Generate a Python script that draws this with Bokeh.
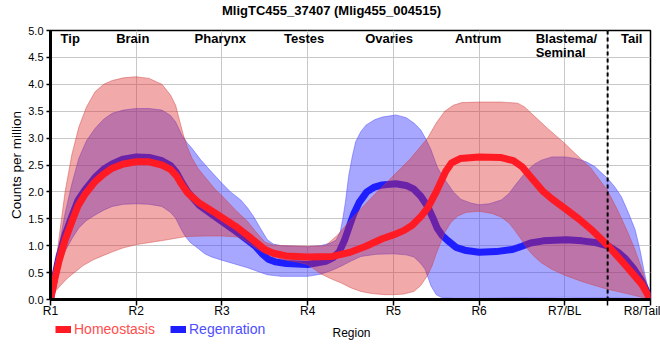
from bokeh.plotting import figure
from bokeh.layouts import column
from bokeh.models import FixedTicker, PrintfTickFormatter, Legend, LegendItem, Span, Range1d, Label
from bokeh.core.properties import value
from bokeh.embed import file_html
from bokeh.resources import INLINE

# ---------------- data ----------------
region_ticks = [1, 2, 3, 4, 5, 6, 7, 7.5, 8]
region_labels = ["R1", "R2", "R3", "R4", "R5", "R6", "R7/BL", "", "R8/Tail"]
section_names = ["Tip", "Brain", "Pharynx", "Testes", "Ovaries", "Antrum", "Tail"]
section_x = [1.23, 1.96, 2.98, 3.96, 4.95, 5.99, 7.78]
section2_names = ["Blastema/", "Seminal"]
section2_x = [6.66, 6.66]
tail_boundary = 7.5

hom_mean_x = [1.00, 1.05, 1.10, 1.17, 1.25, 1.32, 1.40, 1.52, 1.62, 1.72, 1.85, 2.00, 2.15, 2.30, 2.40, 2.47,
              2.53, 2.60, 2.73, 2.92, 3.16, 3.30, 3.40, 3.50, 3.60, 3.75, 4.00, 4.29, 4.48, 4.68, 4.87, 5.00,
              5.12, 5.22, 5.32, 5.40, 5.50, 5.61, 5.68, 5.78, 6.00, 6.25, 6.40, 6.50, 6.60, 6.74, 6.85, 7.02,
              7.17, 7.31, 7.51, 7.70, 7.82, 7.90, 8.00]
hom_mean_y = [0.00, 0.38, 0.72, 1.10, 1.45, 1.74, 1.95, 2.19, 2.33, 2.44, 2.52, 2.56, 2.56, 2.50, 2.42, 2.30,
              2.14, 1.98, 1.80, 1.61, 1.36, 1.19, 1.06, 0.93, 0.86, 0.81, 0.79, 0.80, 0.87, 0.99, 1.13, 1.20,
              1.28, 1.38, 1.54, 1.70, 2.00, 2.38, 2.54, 2.62, 2.65, 2.64, 2.58, 2.47, 2.28, 2.02, 1.87, 1.67,
              1.49, 1.30, 0.99, 0.65, 0.43, 0.28, 0.00]

reg_mean_x = [1.00, 1.05, 1.10, 1.17, 1.25, 1.32, 1.40, 1.52, 1.62, 1.72, 1.85, 2.00, 2.15, 2.30, 2.40, 2.47,
              2.53, 2.60, 2.73, 2.92, 3.16, 3.30, 3.39, 3.47, 3.54, 3.62, 3.75, 4.00, 4.21, 4.30, 4.37, 4.43,
              4.48, 4.54, 4.60, 4.69, 4.78, 4.87, 5.03, 5.15, 5.24, 5.32, 5.40, 5.46, 5.51, 5.57, 5.63, 5.73,
              5.85, 6.00, 6.20, 6.39, 6.50, 6.60, 6.75, 7.02, 7.20, 7.35, 7.51, 7.62, 7.70, 7.80, 7.90, 8.00]
reg_mean_y = [0.00, 0.42, 0.80, 1.20, 1.55, 1.84, 2.03, 2.27, 2.42, 2.52, 2.61, 2.65, 2.64, 2.58, 2.49, 2.36,
              2.18, 2.00, 1.76, 1.54, 1.27, 1.10, 0.99, 0.85, 0.75, 0.70, 0.67, 0.65, 0.71, 0.78, 0.89, 1.10,
              1.33, 1.60, 1.80, 2.00, 2.09, 2.13, 2.15, 2.12, 2.05, 1.92, 1.73, 1.52, 1.33, 1.19, 1.10, 0.97,
              0.91, 0.88, 0.89, 0.93, 0.99, 1.05, 1.09, 1.11, 1.09, 1.06, 0.99, 0.88, 0.77, 0.58, 0.34, 0.00]

hom_upper_x = [1.00, 1.04, 1.07, 1.12, 1.17, 1.25, 1.33, 1.42, 1.52, 1.62, 1.72, 1.85, 2.00, 2.15, 2.30, 2.40,
               2.46, 2.51, 2.55, 2.60, 2.65, 2.72, 2.80, 2.92, 3.00, 3.16, 3.30, 3.39, 3.50, 3.60, 3.75, 4.00,
               4.21, 4.35, 4.50, 4.75, 5.00, 5.20, 5.40, 5.50, 5.60, 5.70, 5.80, 6.00, 6.25, 6.45, 6.53, 6.61,
               6.80, 7.00, 7.13, 7.30, 7.50, 7.62, 7.74, 7.82, 7.90, 7.96, 8.00]
hom_upper_y = [0.00, 0.40, 0.77, 1.40, 2.00, 2.70, 3.20, 3.58, 3.86, 4.00, 4.07, 4.12, 4.14, 4.11, 4.00, 3.80,
               3.61, 3.30, 3.06, 2.82, 2.63, 2.44, 2.28, 2.05, 1.93, 1.66, 1.45, 1.27, 1.07, 1.01, 1.00, 0.99,
               1.00, 1.20, 1.48, 1.90, 2.30, 2.62, 3.00, 3.28, 3.50, 3.61, 3.66, 3.67, 3.67, 3.65, 3.58, 3.46,
               3.18, 2.90, 2.70, 2.45, 2.02, 1.65, 1.23, 0.92, 0.56, 0.25, 0.00]

hom_lower_x = [1.00, 1.05, 1.11, 1.20, 1.27, 1.38, 1.50, 1.62, 1.73, 1.85, 2.00, 2.20, 2.36, 2.58, 2.80, 3.00,
               3.20, 3.30, 3.40, 3.50, 3.62, 3.75, 3.90, 4.00, 4.08, 4.15, 4.28, 4.40, 4.50, 4.62, 4.75, 4.90,
               5.00, 5.12, 5.24, 5.32, 5.40, 5.45, 5.50, 5.55, 5.60, 5.67, 5.75, 5.85, 6.00, 6.15, 6.26, 6.35,
               6.41, 6.50, 6.57, 6.65, 6.73, 6.85, 7.00, 7.19, 7.35, 7.50, 7.75, 8.00]
hom_lower_y = [0.00, 0.14, 0.25, 0.40, 0.49, 0.63, 0.74, 0.82, 0.89, 0.96, 1.02, 1.07, 1.11, 1.17, 1.18, 1.18,
               1.16, 1.06, 0.95, 0.86, 0.78, 0.73, 0.69, 0.65, 0.56, 0.48, 0.38, 0.30, 0.22, 0.15, 0.11, 0.09,
               0.09, 0.10, 0.15, 0.26, 0.45, 0.62, 0.85, 1.05, 1.25, 1.43, 1.55, 1.62, 1.64, 1.60, 1.53, 1.42,
               1.30, 1.10, 0.93, 0.79, 0.68, 0.56, 0.45, 0.34, 0.26, 0.19, 0.10, 0.00]

reg_upper_x = [1.00, 1.05, 1.10, 1.17, 1.25, 1.33, 1.42, 1.52, 1.62, 1.72, 1.85, 2.00, 2.15, 2.30, 2.40, 2.46,
               2.53, 2.60, 2.65, 2.75, 2.84, 3.00, 3.10, 3.22, 3.30, 3.37, 3.45, 3.53, 3.60, 3.69, 4.00, 4.15,
               4.27, 4.33, 4.38, 4.41, 4.44, 4.48, 4.52, 4.56, 4.62, 4.68, 4.78, 4.87, 5.03, 5.15, 5.24, 5.32,
               5.38, 5.44, 5.51, 5.57, 5.63, 5.70, 5.79, 5.91, 6.00, 6.12, 6.26, 6.35, 6.41, 6.50, 6.57, 6.65,
               6.73, 6.85, 7.00, 7.13, 7.25, 7.35, 7.50, 7.58, 7.66, 7.74, 7.82, 7.88, 7.93, 7.97, 8.00]
reg_upper_y = [0.00, 0.50, 1.00, 1.60, 2.15, 2.62, 2.95, 3.18, 3.35, 3.46, 3.52, 3.55, 3.55, 3.52, 3.42, 3.30,
               3.06, 2.90, 2.81, 2.60, 2.44, 2.16, 2.00, 1.85, 1.70, 1.54, 1.32, 1.11, 1.03, 1.00, 0.98, 1.00,
               1.05, 1.10, 1.25, 1.50, 1.80, 2.31, 2.65, 2.93, 3.12, 3.24, 3.34, 3.39, 3.43, 3.38, 3.28, 3.15,
               2.98, 2.78, 2.47, 2.30, 2.16, 2.00, 1.86, 1.79, 1.76, 1.78, 1.85, 1.97, 2.10, 2.28, 2.41, 2.52,
               2.59, 2.65, 2.65, 2.62, 2.56, 2.47, 2.25, 2.10, 1.91, 1.62, 1.30, 0.90, 0.49, 0.22, 0.00]

reg_lower_x = [1.00, 1.05, 1.10, 1.17, 1.25, 1.33, 1.42, 1.52, 1.62, 1.72, 1.85, 2.00, 2.15, 2.30, 2.40, 2.46,
               2.52, 2.57, 2.63, 2.69, 2.80, 2.88, 3.00, 3.15, 3.30, 3.42, 3.53, 3.69, 4.00, 4.15, 4.28, 4.39,
               4.50, 4.62, 4.80, 5.00, 5.15, 5.24, 5.32, 5.37, 5.44, 5.50, 5.56, 5.70, 6.00, 6.50, 7.00, 7.50,
               7.80, 8.00]
reg_lower_y = [0.00, 0.30, 0.58, 0.90, 1.13, 1.33, 1.47, 1.57, 1.66, 1.73, 1.77, 1.78, 1.77, 1.73, 1.62, 1.51,
               1.32, 1.18, 1.06, 0.99, 0.85, 0.79, 0.73, 0.66, 0.59, 0.52, 0.46, 0.43, 0.43, 0.47, 0.54, 0.62,
               0.71, 0.80, 0.84, 0.85, 0.83, 0.79, 0.67, 0.56, 0.25, 0.09, 0.04, 0.02, 0.02, 0.03, 0.04, 0.03,
               0.02, 0.00]

series_names = ["Homeostasis", "Regenration"]
x_axis_title = "Region"
y_axis_title = "Counts per million"
chart_title = "MligTC455_37407 (Mlig455_004515)"

# ---------------- styles ----------------
FONT = "Liberation Sans"
HOM_LINE, HOM_FILL, HOM_TEXT = "#ff1a24", "#dc2828", "#ff4d4d"
REG_LINE, REG_FILL, REG_TEXT = "#1e1eff", "#3c3cff", "#4d4dff"
NAN = float("nan")


def strip(height):
    f = figure(width=660, height=height, x_range=Range1d(50, 650), y_range=Range1d(0, height),
               output_backend="svg", toolbar_location=None,
               min_border_left=50, min_border_right=10, min_border_top=0, min_border_bottom=0)
    f.axis.visible = False
    f.grid.visible = False
    f.outline_line_color = None
    f.background_fill_color = "white"
    f.border_fill_color = "white"
    return f


# ---------------- title strip ----------------
p0 = strip(23)
p0.add_layout(Label(x=331, y=13.5, text=chart_title, text_align="center", text_baseline="middle",
                    text_font=FONT, text_font_size="13px", text_font_style="bold", text_color="black"))

# ---------------- main figure ----------------
p = figure(width=660, height=297, x_range=Range1d(1, 8), y_range=Range1d(0, 5),
           output_backend="svg", toolbar_location=None,
           min_border_left=50, min_border_right=10, min_border_top=7, min_border_bottom=20)

p.background_fill_color = "white"
p.border_fill_color = "white"
p.outline_line_color = "black"
p.outline_line_width = 1.5

p.xaxis.ticker = FixedTicker(ticks=region_ticks)
p.xaxis.major_label_overrides = {t: l for t, l in zip(region_ticks, region_labels)}
p.yaxis.ticker = FixedTicker(ticks=[i * 0.5 for i in range(11)])
p.yaxis.formatter = PrintfTickFormatter(format="%.1f")
for ax in (p.xaxis, p.yaxis):
    ax.axis_line_color = "black"
    ax.axis_line_width = 3
    ax.major_tick_line_color = "black"
    ax.major_tick_line_width = 1.5
    ax.major_tick_in = 0
    ax.minor_tick_line_color = None
    ax.major_label_text_font = FONT
    ax.major_label_text_color = "black"
    ax.axis_label_text_font = FONT
    ax.axis_label_text_font_style = "normal"
    ax.axis_label_text_color = "black"
p.xaxis.major_tick_out = 6
p.yaxis.major_tick_out = 4
p.xaxis.major_label_text_font_size = "12px"
p.yaxis.major_label_text_font_size = "11px"
p.xaxis.major_label_standoff = -2
p.yaxis.major_label_standoff = 3
p.yaxis.axis_label = y_axis_title
p.yaxis.axis_label_text_font_size = "13.5px"
p.yaxis.axis_label_standoff = 1

p.grid.grid_line_color = "#c8c8c8"
p.grid.grid_line_width = 1

# bands and lines (regeneration first, homeostasis drawn over it)
p.patch(reg_upper_x + reg_lower_x[::-1], reg_upper_y + reg_lower_y[::-1],
        fill_color=REG_FILL, fill_alpha=0.45, line_color="#5050ff", line_alpha=0.5, line_width=1)
p.line(reg_mean_x, reg_mean_y, line_color=REG_LINE, line_width=7, line_join="round")
p.patch(hom_upper_x + hom_lower_x[::-1], hom_upper_y + hom_lower_y[::-1],
        fill_color=HOM_FILL, fill_alpha=0.4, line_color="#d04040", line_alpha=0.45, line_width=1)
p.line(hom_mean_x, hom_mean_y, line_color=HOM_LINE, line_width=7, line_join="round")

p.add_layout(Span(location=tail_boundary, dimension="height", line_color="black",
                  line_width=2, line_dash="4 3"))

p.text(x=section_x, y=[4.86] * len(section_x), text=section_names,
       text_font=value(FONT), text_font_size="13px", text_font_style="bold",
       text_align="center", text_baseline="alphabetic", text_color="black")
p.text(x=section2_x, y=[4.86, 4.60], text=section2_names,
       text_font=value(FONT), text_font_size="13px", text_font_style="bold",
       text_align="left", text_baseline="alphabetic", text_color="black")

# ---------------- legend / axis-title strip ----------------
p2 = strip(40)
h_proxy = p2.line(x=[NAN], y=[NAN], line_color=HOM_LINE, line_width=7)
r_proxy = p2.line(x=[NAN], y=[NAN], line_color=REG_LINE, line_width=7)

for name, rend, col, xloc in [(series_names[0], h_proxy, HOM_TEXT, 5),
                              (series_names[1], r_proxy, REG_TEXT, 120)]:
    lg = Legend(items=[LegendItem(label=name, renderers=[rend])],
                location=(xloc, 23.5), orientation="horizontal",
                background_fill_alpha=0, border_line_color=None,
                padding=0, margin=0, spacing=0,
                glyph_width=16, glyph_height=12, label_height=12, label_standoff=3,
                label_text_font=FONT, label_text_font_size="14px", label_text_color=col)
    p2.add_layout(lg)

p2.add_layout(Label(x=351, y=28, text=x_axis_title, text_align="center", text_baseline="middle",
                    text_font=FONT, text_font_size="12px", text_color="black"))

layout = column(p0, p, p2, spacing=0)
open("out.html", "w").write(file_html(layout, INLINE))
